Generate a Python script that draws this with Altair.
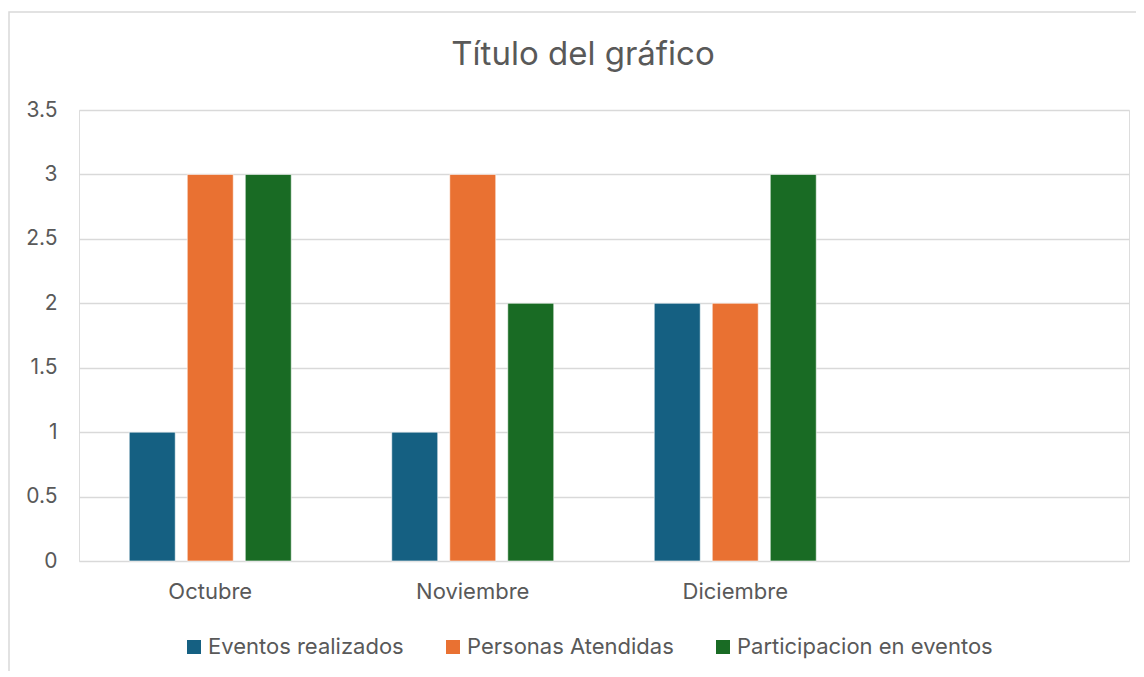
import altair as alt
import pandas as pd

categories = ["Octubre", "Noviembre", "Diciembre", ""]
series = ["Eventos realizados", "Personas Atendidas", "Participacion en eventos"]
months = ["Octubre", "Noviembre", "Diciembre"]
eventos = [1, 1, 2]
personas = [3, 3, 2]
participacion = [3, 2, 3]
colors = ["#156082", "#E97132", "#196B24"]
y_ticks = [0, 0.5, 1, 1.5, 2, 2.5, 3, 3.5]

rows = []
for name, vals in zip(series, [eventos, personas, participacion]):
    for m, v in zip(months, vals):
        rows.append({"Mes": m, "Serie": name, "Valor": v})
df = pd.DataFrame(rows)

FONT = "Inter"
TXT = "#595959"
GRID = "#d9d9d9"

bars = alt.Chart(df).mark_bar(stroke="white", strokeWidth=0.6).encode(
    x=alt.X("Mes:N", scale=alt.Scale(domain=categories, paddingInner=0, paddingOuter=0),
            axis=alt.Axis(title=None, labelAngle=0, domain=False, ticks=False,
                          labelPadding=20, labelFontSize=22, labelColor=TXT, labelFont=FONT)),
    xOffset=alt.XOffset("Serie:N", scale=alt.Scale(domain=series, paddingInner=0.207, paddingOuter=0.866)),
    y=alt.Y("Valor:Q", scale=alt.Scale(domain=[0, 3.5], nice=False),
            axis=alt.Axis(title=None, values=y_ticks, format="~g", domain=False, ticks=False,
                          labelPadding=22, labelFontSize=21, labelColor=TXT, labelFont=FONT,
                          gridColor=GRID, gridWidth=1.5, labelFlush=False)),
    color=alt.Color("Serie:N", scale=alt.Scale(domain=series, range=colors),
                    legend=alt.Legend(title=None, orient="none", legendX=104, legendY=526,
                                      direction="horizontal", columnPadding=38, labelLimit=0,
                                      symbolType="square", symbolSize=196, symbolStrokeWidth=0,
                                      labelFontSize=22, labelColor=TXT, labelFont=FONT,
                                      labelOffset=3)),
)

frame = alt.Chart(pd.DataFrame({"a": [0]})).mark_rect(fill=None, stroke=GRID, strokeWidth=1.5).encode(
    x=alt.value(-70), x2=alt.value(1200), y=alt.value(-98), y2=alt.value(700)
)

chart = alt.layer(frame, bars).properties(
    width=1050, height=451,
    title=alt.TitleParams("Título del gráfico", fontSize=33, font=FONT, color=TXT,
                          fontWeight="normal", anchor="middle", frame="group", dx=-21,
                          baseline="alphabetic", offset=-87),
    autosize=alt.AutoSizeParams(type="none"),
    padding={"left": 71, "top": 102, "right": 7, "bottom": 110},
).configure_view(strokeWidth=0).configure(background="white")

chart.save("out.html", embed_options={"renderer": "svg", "actions": False})
